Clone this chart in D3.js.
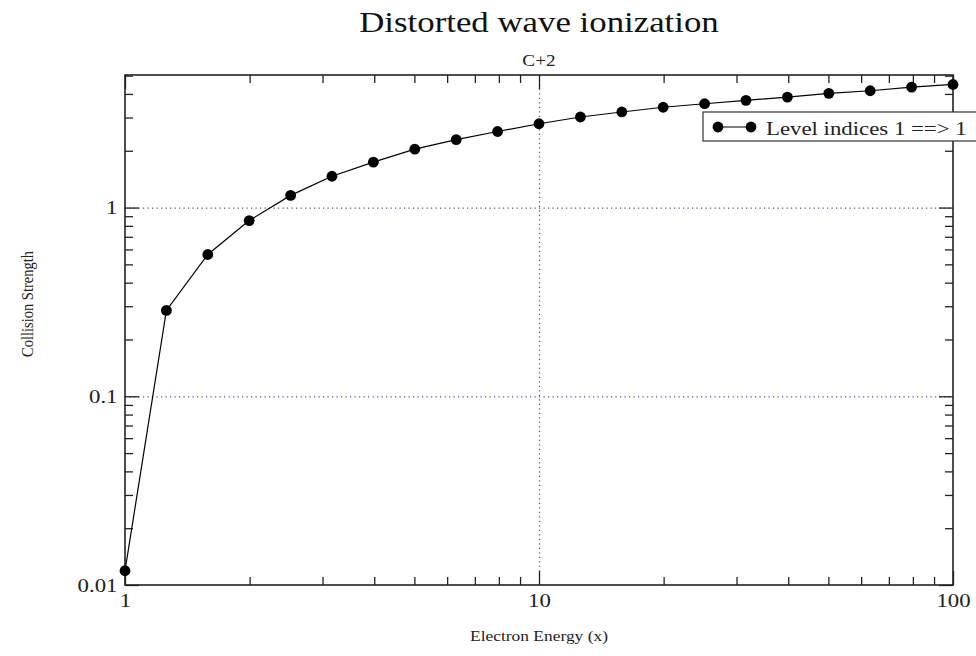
<!DOCTYPE html>
<html>
<head>
<meta charset="utf-8">
<script src="https://cdn.jsdelivr.net/npm/d3@7"></script>
<style>
  html, body { margin: 0; padding: 0; background: #fff; }
  svg { display: block; }
  svg text { font-family: "Liberation Serif", "Times New Roman", Tinos; }
</style>
</head>
<body>
<svg id="chart" width="976" height="656"></svg>
<script>
// ---- data ----
const energies = [1, 1.259, 1.585, 1.995, 2.512, 3.162, 3.981, 5.012, 6.31, 7.943, 10,
                  12.59, 15.85, 19.95, 25.12, 31.62, 39.81, 50.12, 63.1, 79.43, 100];
const strengths = [0.0119, 0.285, 0.564, 0.853, 1.16, 1.465, 1.74, 2.04, 2.29, 2.53, 2.78,
                   3.02, 3.21, 3.40, 3.55, 3.70, 3.85, 4.03, 4.16, 4.35, 4.49];
const xMajorTicks = [1, 10, 100];
const xMinorTicks = [2, 3, 4, 5, 6, 7, 8, 9, 20, 30, 40, 50, 60, 70, 80, 90];
const yMajorTicks = [0.01, 0.1, 1];
const yMinorTicks = [0.02, 0.03, 0.04, 0.05, 0.06, 0.07, 0.08, 0.09,
                     0.2, 0.3, 0.4, 0.5, 0.6, 0.7, 0.8, 0.9, 2, 3, 4, 5];
const xTickLabels = ["1", "10", "100"];
const yTickLabels = ["0.01", "0.1", "1"];
const xGrid = [10];
const yGrid = [0.1, 1];
const titleText = "Distorted wave ionization";
const subtitleText = "C+2";
const xLabel = "Electron Energy (x)";
const yLabel = "Collision Strength";
const legendLabel = "Level indices 1 ==> 1";

// ---- layout ----
const FONT = '"Liberation Serif", "Times New Roman", Tinos';
const STRETCH = 1.2;   // glyphs in the reference are drawn horizontally wide
const L = 125, R = 953, T = 75, B = 585;
const svg = d3.select("#chart");
const x = d3.scaleLog().domain([1, 100]).range([L, R]);
const y = d3.scaleLog().domain([0.01, 5.04]).range([B, T]);
const W = R - L, H = B - T;

function widen(sel) {
  sel.each(function () {
    const w = this.getComputedTextLength();
    if (w > 0) d3.select(this).attr("textLength", w * STRETCH).attr("lengthAdjust", "spacingAndGlyphs");
  });
}

// grid
const gridColor = "#4a4ab8";
svg.append("g").attr("transform", `translate(0,${B})`)
  .call(d3.axisBottom(x).tickValues(xGrid).tickSize(-H).tickFormat(""))
  .call(g => g.select(".domain").remove())
  .selectAll("line").attr("stroke", gridColor).attr("stroke-width", 1.2).attr("stroke-dasharray", "1.2,3.3");
svg.append("g").attr("transform", `translate(${L},0)`)
  .call(d3.axisLeft(y).tickValues(yGrid).tickSize(-W).tickFormat(""))
  .call(g => g.select(".domain").remove())
  .selectAll("line").attr("stroke", gridColor).attr("stroke-width", 1.2).attr("stroke-dasharray", "1.2,3.3");

// ticks (inside) on all 4 sides
function styleAxis(g) {
  g.attr("font-family", null).attr("font-size", null);
  g.select(".domain").remove();
  g.selectAll("line").attr("stroke", "#222").attr("stroke-width", 1.3);
  g.selectAll("text").attr("fill", "#222").style("font-size", "19px").style("font-family", FONT).call(widen);
}
const minor = 8, major = 14;
svg.append("g").attr("transform", `translate(0,${B})`)
  .call(d3.axisBottom(x).tickValues(xMinorTicks).tickSize(-minor).tickFormat("")).call(styleAxis);
svg.append("g").attr("transform", `translate(0,${B})`)
  .call(d3.axisBottom(x).tickValues(xMajorTicks).tickSize(-major).tickPadding(8.5)
    .tickFormat((d, i) => xTickLabels[i])).call(styleAxis);
svg.append("g").attr("transform", `translate(0,${T})`)
  .call(d3.axisTop(x).tickValues(xMinorTicks).tickSize(-minor).tickFormat("")).call(styleAxis);
svg.append("g").attr("transform", `translate(0,${T})`)
  .call(d3.axisTop(x).tickValues(xMajorTicks).tickSize(-major).tickFormat("")).call(styleAxis);
svg.append("g").attr("transform", `translate(${L},0)`)
  .call(d3.axisLeft(y).tickValues(yMinorTicks).tickSize(-minor).tickFormat("")).call(styleAxis);
svg.append("g").attr("transform", `translate(${L},0)`)
  .call(d3.axisLeft(y).tickValues(yMajorTicks).tickSize(-major).tickPadding(7.5)
    .tickFormat((d, i) => yTickLabels[i])).call(styleAxis);
svg.append("g").attr("transform", `translate(${R},0)`)
  .call(d3.axisRight(y).tickValues(yMinorTicks).tickSize(-minor).tickFormat("")).call(styleAxis);
svg.append("g").attr("transform", `translate(${R},0)`)
  .call(d3.axisRight(y).tickValues(yMajorTicks).tickSize(-major).tickFormat("")).call(styleAxis);

// frame
svg.append("rect").attr("x", L).attr("y", T).attr("width", W).attr("height", H)
  .attr("fill", "none").attr("stroke", "#222").attr("stroke-width", 1.6);

// data line + markers
const pts = energies.map((e, i) => [e, strengths[i]]);
svg.append("path").datum(pts)
  .attr("d", d3.line().x(d => x(d[0])).y(d => y(d[1])))
  .attr("fill", "none").attr("stroke", "#000").attr("stroke-width", 1.2);
svg.append("g").selectAll("circle").data(pts).join("circle")
  .attr("cx", d => x(d[0])).attr("cy", d => y(d[1])).attr("r", 5.4).attr("fill", "#000");

// legend
const lg = svg.append("g");
lg.append("rect").attr("x", 703).attr("y", 112).attr("width", 300).attr("height", 29)
  .attr("fill", "#fff").attr("stroke", "#333").attr("stroke-width", 1.2);
lg.append("line").attr("x1", 718).attr("x2", 751).attr("y1", 127).attr("y2", 127)
  .attr("stroke", "#000").attr("stroke-width", 1.2);
lg.selectAll("circle").data([718, 751]).join("circle")
  .attr("cx", d => d).attr("cy", 127).attr("r", 5.4).attr("fill", "#000");
lg.append("text").attr("x", 766).attr("y", 135).style("font-size", "19px").style("font-family", FONT)
  .attr("fill", "#222").text(legendLabel).call(widen);

// titles
svg.append("text").attr("x", (L + R) / 2).attr("y", 32).attr("text-anchor", "middle")
  .style("font-size", "29px").style("font-family", FONT).attr("fill", "#111").text(titleText).call(widen);
svg.append("text").attr("x", (L + R) / 2).attr("y", 66).attr("text-anchor", "middle")
  .style("font-size", "16px").style("font-family", FONT).attr("fill", "#222").text(subtitleText).call(widen);
svg.append("text").attr("x", (L + R) / 2).attr("y", 641).attr("text-anchor", "middle")
  .style("font-size", "14.5px").style("font-family", FONT).attr("fill", "#222").text(xLabel).call(widen);
svg.append("text").attr("transform", `translate(33,304) scale(${STRETCH},1) rotate(-90)`).attr("text-anchor", "middle")
  .style("font-size", "14.5px").style("font-family", FONT).attr("fill", "#222").text(yLabel);
</script>
</body>
</html>
